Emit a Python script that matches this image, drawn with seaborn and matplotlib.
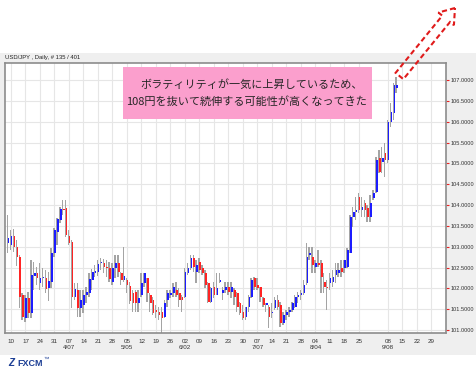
import matplotlib
matplotlib.use("Agg")
import matplotlib.pyplot as plt
import matplotlib.patches as mpatches
import matplotlib.transforms as mtransforms
import numpy as np
import pandas as pd
import seaborn as sns

# daily USD/JPY bars, 2014-03-07 .. 2014-09-11
opens = [103.08, 103.04, 103.26, 103.00, 102.76, 101.84, 101.28, 101.78, 101.40, 102.30,
         102.36, 102.12, 102.24, 102.24, 102.00, 102.16, 102.84, 103.36, 103.64, 103.90,
         103.92, 103.26, 103.12, 101.80, 101.96, 101.52, 101.60, 101.84, 101.90, 102.20,
         102.38, 102.40, 102.60, 102.62, 102.52, 102.50, 102.16, 102.48, 102.62, 102.36,
         102.20, 102.20, 102.06, 101.90, 101.92, 101.64, 101.84, 102.12, 102.24, 101.84,
         101.72, 101.48, 101.44, 101.44, 101.32, 101.72, 101.84, 101.88, 101.96, 101.88,
         101.80, 101.80, 102.36, 102.48, 102.72, 102.40, 102.64, 102.48, 102.36, 102.12,
         101.68, 102.04, 101.84, 102.16, 101.88, 101.96, 102.04, 101.92, 101.96, 101.88,
         101.64, 101.44, 101.32, 101.56, 101.80, 102.24, 102.08, 102.04, 101.76, 101.60,
         101.56, 101.40, 101.52, 101.72, 101.60, 101.16, 101.36, 101.44, 101.48, 101.56,
         101.80, 101.84, 101.88, 102.12, 102.80, 102.76, 102.52, 102.60, 102.60, 102.16,
         102.04, 102.12, 102.16, 102.32, 102.36, 102.48, 102.48, 102.52, 102.84, 103.72,
         103.84, 104.20, 103.88, 104.04, 103.92, 103.72, 104.16, 104.32, 105.12, 105.04,
         105.24, 105.08, 106.00, 106.20, 106.80]
highs = [103.76, 103.40, 103.42, 103.16, 102.80, 101.88, 101.84, 101.92, 102.68, 102.64,
         102.52, 102.60, 102.48, 102.44, 102.40, 102.96, 103.44, 103.68, 103.96, 104.12,
         104.12, 103.40, 103.16, 102.12, 102.14, 101.96, 101.96, 102.04, 102.36, 102.46,
         102.56, 102.68, 102.72, 102.70, 102.68, 102.64, 102.60, 102.80, 102.80, 102.40,
         103.00, 102.24, 102.16, 101.96, 101.96, 101.96, 102.36, 102.36, 102.24, 101.88,
         101.80, 101.60, 101.56, 101.56, 101.72, 101.96, 101.96, 102.12, 102.16, 102.00,
         101.84, 102.48, 102.60, 102.80, 102.80, 102.68, 102.72, 102.56, 102.44, 102.16,
         102.04, 102.16, 102.36, 102.36, 102.04, 102.16, 102.16, 102.16, 102.00, 101.92,
         101.68, 101.60, 101.56, 101.84, 102.24, 102.28, 102.24, 102.04, 101.80, 101.64,
         101.60, 101.64, 101.80, 101.84, 101.68, 101.44, 101.48, 101.56, 101.68, 101.84,
         101.92, 101.96, 102.20, 103.08, 103.00, 103.00, 102.68, 102.92, 102.68, 102.36,
         102.20, 102.36, 102.44, 102.60, 102.60, 102.68, 102.68, 102.96, 103.76, 103.96,
         104.20, 104.28, 104.20, 104.12, 104.00, 104.24, 104.36, 105.16, 105.32, 105.40,
         105.48, 106.04, 106.44, 106.92, 107.08]
lows = [102.84, 102.92, 102.88, 102.54, 101.52, 101.24, 101.20, 101.28, 101.28, 101.96,
        102.08, 101.96, 102.04, 101.88, 101.71, 102.00, 102.76, 103.04, 103.56, 103.76,
        103.24, 103.04, 101.52, 101.72, 101.32, 101.32, 101.40, 101.64, 101.80, 101.96,
        102.28, 102.30, 102.44, 102.36, 102.28, 102.16, 102.08, 102.24, 102.28, 102.08,
        102.16, 101.88, 101.62, 101.44, 101.44, 101.44, 101.80, 102.04, 101.68, 101.44,
        101.36, 101.28, 101.24, 100.88, 101.28, 101.56, 101.76, 101.80, 101.80, 101.56,
        101.44, 101.76, 102.32, 102.44, 102.40, 102.12, 102.36, 102.32, 102.00, 101.64,
        101.64, 101.76, 101.84, 102.12, 101.72, 101.88, 101.84, 101.76, 101.60, 101.44,
        101.36, 101.24, 101.24, 101.44, 101.76, 101.96, 101.96, 101.68, 101.56, 101.44,
        101.04, 101.30, 101.48, 101.48, 101.08, 101.12, 101.24, 101.32, 101.44, 101.52,
        101.64, 101.72, 101.84, 102.08, 102.68, 102.36, 102.36, 102.52, 101.88, 101.88,
        101.48, 101.96, 102.04, 102.12, 102.28, 102.28, 102.36, 102.48, 102.84, 103.48,
        103.64, 103.80, 103.72, 103.72, 103.60, 103.60, 104.12, 104.28, 104.76, 104.76,
        104.68, 105.00, 105.88, 106.04, 106.68]
closes = [103.20, 103.26, 103.00, 102.76, 101.80, 101.32, 101.76, 101.42, 102.32, 102.38,
          102.24, 102.24, 102.28, 101.98, 102.18, 102.84, 103.40, 103.66, 103.90, 103.88,
          103.28, 103.10, 101.80, 101.98, 101.52, 101.72, 101.84, 101.92, 102.22, 102.40,
          102.42, 102.58, 102.64, 102.52, 102.50, 102.22, 102.48, 102.62, 102.40, 102.20,
          102.30, 102.08, 101.70, 101.64, 101.64, 101.76, 102.12, 102.36, 101.88, 101.64,
          101.40, 101.44, 101.36, 101.28, 101.64, 101.88, 101.88, 102.04, 101.84, 101.72,
          101.72, 102.40, 102.48, 102.72, 102.52, 102.56, 102.44, 102.36, 102.08, 101.68,
          102.00, 101.84, 102.00, 102.20, 101.96, 102.04, 101.92, 102.04, 101.80, 101.56,
          101.40, 101.28, 101.56, 101.80, 102.20, 102.04, 102.00, 101.80, 101.60, 101.64,
          101.32, 101.44, 101.72, 101.56, 101.16, 101.36, 101.44, 101.48, 101.64, 101.80,
          101.84, 101.88, 102.08, 102.76, 102.84, 102.56, 102.60, 102.56, 102.28, 102.04,
          102.00, 102.24, 102.28, 102.44, 102.44, 102.40, 102.68, 102.92, 103.72, 103.84,
          103.88, 103.88, 103.96, 103.88, 103.72, 104.04, 104.28, 105.08, 104.80, 105.12,
          105.08, 106.00, 106.24, 106.88, 106.88]

price_ticks = np.arange(101.0, 107.01, 0.5)
month_labels = {"2014-04-07": "4/07", "2014-05-05": "5/05", "2014-06-02": "6/02",
                "2014-07-07": "7/07", "2014-08-04": "8/04", "2014-09-08": "9/08"}
title_text = "USD/JPY , Daily, # 135 / 401"
note_lines = ["ボラティリティが一気に上昇しているため、",
              "108円を抜いて続伸する可能性が高くなってきた"]

# business-day axis (weekend gaps removed)
axis_days = pd.bdate_range("2014-03-07", "2014-10-03")
df = pd.DataFrame({"date": axis_days[:len(opens)], "open": opens, "high": highs,
                   "low": lows, "close": closes})
df["pos"] = np.arange(len(df))
df["color"] = np.where(df.close > df.open, "#1c1cff",
                       np.where(df.close < df.open, "#ff2424", "#a0a0a0"))

tick_dates = pd.date_range("2014-03-10", "2014-09-29", freq="W-MON").drop(pd.Timestamp("2014-09-01"))
tick_pos = axis_days.get_indexer(tick_dates)
tick_labels = []
for d in tick_dates:
    key = d.strftime("%Y-%m-%d")
    lab = d.strftime("%d")
    if key in month_labels:
        lab = lab + "\n" + month_labels[key]
    tick_labels.append(lab)

sns.set_style("white")
plt.rcParams["font.family"] = ["Liberation Sans", "DejaVu Sans"]

fig = plt.figure(figsize=(4.77, 3.70), dpi=100)
# pixel coordinates, y pointing down
pix = mtransforms.Affine2D().scale(0.01, -0.01).translate(0, 3.70) + fig.dpi_scale_trans

fig.patches.append(mpatches.Rectangle((0, 53), 477, 302, transform=pix,
                                      facecolor="#efefef", edgecolor="none", zorder=-1))

ax = fig.add_axes([5 / 477, 1 - 333 / 370, 441.5 / 477, 270 / 370])
ax.set_facecolor("white")

# wicks and bodies
ax.bar(df.pos - 0.15, df.high - df.low, bottom=df.low, width=0.5,
       color="#a4a4a4", linewidth=0, zorder=2)
ax.bar(df.pos + 0.2, df.close - df.open, bottom=df.open, width=0.55,
       color=df.color, linewidth=0, zorder=3)

ax.set_xlim(-1.07, 151.2)
ax.set_ylim(100.93, 107.41)

ax.set_xticks(tick_pos)
ax.set_xticklabels(tick_labels, fontsize=4.5, color="#333333", linespacing=1.3)
ax.yaxis.tick_right()
ax.set_yticks(price_ticks)
ax.set_yticklabels([f"{v:.4f}" for v in price_ticks], fontsize=4.1, color="#333333")
ax.tick_params(axis="both", colors="#ee2222", length=3, width=0.8, pad=1.5)
ax.tick_params(axis="x", labelcolor="#333333")
ax.tick_params(axis="y", labelcolor="#333333", pad=0.3, length=2.5)

ax.grid(True, color="#e6e6e6", linewidth=0.8)
ax.set_axisbelow(True)
for s in ax.spines.values():
    s.set_color("#8c8c8c")
    s.set_linewidth(1.2)

fig.text(5, 57, title_text, transform=pix, fontsize=4.2, va="center", color="#222222")

# comment box
fig.patches.append(mpatches.Rectangle((123, 67), 249, 52, transform=pix,
                                      facecolor="#fb9fcd", edgecolor="none", zorder=5))
cjk = ["Noto Sans CJK JP", "DejaVu Sans"]
fig.text(252, 85, note_lines[0], transform=pix, fontsize=8, ha="center", va="center",
         family=cjk, zorder=6)
fig.text(247, 101, note_lines[1], transform=pix, fontsize=8, ha="center", va="center",
         family=cjk, zorder=6)

# dashed arrow
arrow = mpatches.FancyArrow(399.5, 76, 55.5, -68, width=10, head_width=20, head_length=14,
                            length_includes_head=True, fill=False, edgecolor="#e01b1b",
                            linewidth=1.5, linestyle=(0, (2.5, 1.5)), transform=pix,
                            zorder=7, clip_on=False)
fig.patches.append(arrow)

# logo
fig.text(8, 363, "Z", transform=pix, fontsize=7, fontweight="bold", style="italic",
         color="#1d3f95", va="center")
fig.text(17, 363, "FXCM", transform=pix, fontsize=6.5, fontweight="bold",
         color="#1d3f95", va="center")
fig.text(43, 359, "™", transform=pix, fontsize=4, color="#1d3f95", va="center")

fig.savefig("out.png", dpi=100)
